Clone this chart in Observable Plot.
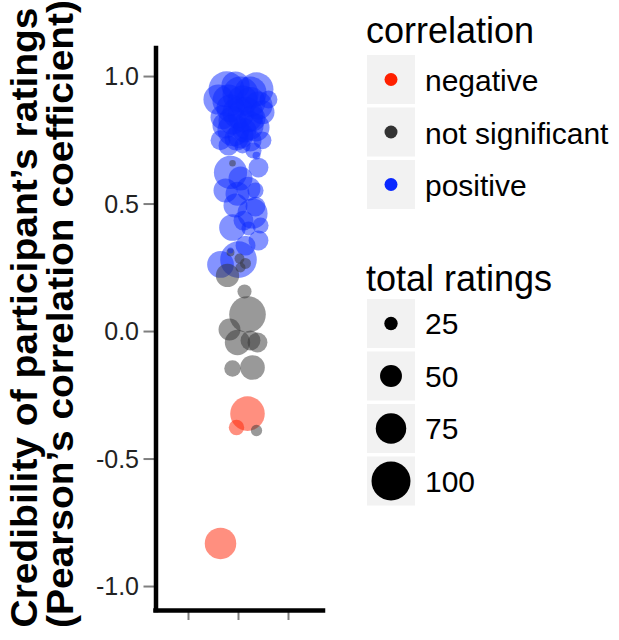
<!DOCTYPE html>
<html>
<head>
<meta charset="utf-8">
<script src="https://cdn.jsdelivr.net/npm/d3@7"></script>
<script src="https://cdn.jsdelivr.net/npm/@observablehq/plot@0.6"></script>
<style>
  html, body { margin: 0; padding: 0; background: white; }
  #wrap { position: relative; width: 619px; height: 640px; overflow: hidden; }
  #wrap > svg { position: absolute; left: 0; top: 0; }
</style>
</head>
<body>
<div id="wrap"></div>
<script>
// ---- data ----
const corrCategories = ["negative", "not significant", "positive"];
const corrColors = ["#FF2000", "#333333", "#0A28FF"];

// positive correlations
const posCorr  = [0.95, 0.95, 0.91, 0.93, 0.91, 0.86, 0.84, 0.85, 0.79, 0.80, 0.75, 0.73, 0.71, 0.69, 0.875, 0.90, 0.757, 0.75, 0.624, 0.56, 0.54, 0.553, 0.463, 0.49, 0.435, 0.408, 0.357, 0.282, 0.263, 0.318, 0.404, 0.643,
                  0.965, 0.937, 0.906, 0.886, 0.859, 0.808, 0.808, 0.769, 0.729, 0.749, 0.60, 0.553, 0.416, 0.337,
                  0.906, 0.827, 0.835, 0.788, 0.494];
const posJit   = [0.88, 1.18, 0.80, 1.02, 1.30, 1.24, 0.84, 1.07, 0.95, 1.17, 0.82, 1.04, 1.15, 1.18, 0.92, 1.12, 0.98, 1.24, 0.92, 1.10, 0.99, 1.17, 1.14, 1.17, 1.05, 0.94, 1.20, 1.00, 0.82, 0.92, 1.10, 1.20,
                  0.97, 1.12, 0.90, 1.20, 1.00, 0.87, 1.10, 1.02, 0.90, 1.12, 1.02, 0.87, 1.22, 1.07,
                  1.04, 0.94, 1.14, 1.06, 0.97];
const posTotal = [91, 85, 74, 91, 38, 56, 56, 91, 80, 68, 44, 33, 33, 9, 68, 74, 56, 38, 83, 56, 56, 33, 74, 44, 44, 64, 44, 93, 64, 3, 27, 44,
                  68, 80, 80, 68, 80, 62, 74, 62, 44, 50, 56, 56, 33, 44,
                  74, 68, 62, 56, 56];

// not significant
const nsCorr  = [0.66, 0.31, 0.286, 0.267, 0.251, 0.22, 0.157, 0.067, 0.008, -0.043, -0.035, -0.043, -0.145, -0.141, -0.388];
const nsJit   = [0.94, 0.92, 1.01, 1.07, 1.02, 0.89, 1.06, 1.09, 0.91, 0.99, 1.12, 1.19, 0.94, 1.14, 1.18];
const nsTotal = [5, 9, 15, 18, 15, 54, 27, 93, 50, 60, 44, 44, 34, 58, 19];

// negative
const negCorr  = [-0.322, -0.376, -0.831];
const negJit   = [1.09, 0.98, 0.82];
const negTotal = [87, 31, 78];

const yTicks = [-1, -0.5, 0, 0.5, 1];
const yTickLabels = ["-1.0", "-0.5", "0.0", "0.5", "1.0"];
const xTicks = [0.5, 1, 1.5];
const xDomain = [0.175, 1.85];
const yDomain = [-1.094, 1.11];
const sizeBreaks = [25, 50, 75, 100];

const points = [];
const addGroup = (cat, c, j, t) => c.forEach((v, i) => points.push({corr: cat, y: v, x: j[i], total: t[i]}));
addGroup("positive", posCorr, posJit, posTotal);
addGroup("not significant", nsCorr, nsJit, nsTotal);
addGroup("negative", negCorr, negJit, negTotal);

const FONT = "'Liberation Sans', Arial, Helvetica, sans-serif";

const plot = Plot.plot({
  width: 340,
  height: 640,
  marginLeft: 155.5,
  marginRight: 17,
  marginTop: 48,
  marginBottom: 30,
  style: {fontFamily: FONT, background: "transparent"},
  x: {domain: xDomain, axis: null},
  y: {domain: yDomain, axis: null},
  r: {type: "linear", domain: [0, 100], range: [2.43, 19.5]},
  color: {domain: corrCategories, range: corrColors},
  marks: [
    Plot.axisY({ticks: yTicks, tickFormat: () => "", tickSize: 12,
      stroke: "#7f7f7f", strokeWidth: 2, label: null}),
    Plot.axisX({ticks: xTicks, tickFormat: () => "", tickSize: 10,
      stroke: "#7f7f7f", strokeWidth: 2, label: null}),
    Plot.dot(points, {x: "x", y: "y", r: "total", fill: "corr", fillOpacity: 0.5, stroke: null}),
    Plot.ruleX([xDomain[0]], {stroke: "black", strokeWidth: 4.5, strokeLinecap: "square"}),
    Plot.ruleY([yDomain[0]], {stroke: "black", strokeWidth: 4.5, strokeLinecap: "square"})
  ]
});

const wrap = document.getElementById("wrap");
wrap.appendChild(plot);

// ---- overlay: tick labels, axis title, legends ----
const yScale = plot.scale("y");
const rScale = plot.scale("r");
const cScale = plot.scale("color");
const rOf = v => rScale.range[0] + (v - rScale.domain[0]) / (rScale.domain[1] - rScale.domain[0]) * (rScale.range[1] - rScale.range[0]);

const svg = d3.create("svg").attr("width", 619).attr("height", 640)
  .style("font-family", FONT);

// y tick labels positioned with Plot's y scale
yTicks.forEach((v, i) => {
  svg.append("text")
    .attr("x", 139)
    .attr("y", yScale.apply(v))
    .attr("dy", "0.36em")
    .attr("text-anchor", "end")
    .attr("font-size", 25)
    .attr("fill", "#222222")
    .text(yTickLabels[i]);
});

// y axis title (two lines)
const titleLines = ["Credibility of participant\u2019s ratings", "(Pearson\u2019s correlation coefficient)"];
const titleX = [37, 73];
const titleLen = [620, 628];
titleLines.forEach((t, i) => {
  svg.append("text")
    .attr("transform", `translate(${titleX[i]},${i === 0 ? 317.5 : 314}) rotate(-90)`)
    .attr("text-anchor", "middle")
    .attr("font-size", 37)
    .attr("font-weight", "bold")
    .attr("fill", "black")
    .attr("textLength", titleLen[i])
    .attr("lengthAdjust", "spacingAndGlyphs")
    .text(t);
});

// colour legend
svg.append("text").attr("x", 366).attr("y", 43).attr("font-size", 36).text("correlation");
const keyTop1 = 55, keyStep = 52.5;
cScale.domain.forEach((cat, i) => {
  const y0 = keyTop1 + i * keyStep;
  svg.append("rect").attr("x", 367).attr("y", y0).attr("width", 48).attr("height", 49).attr("fill", "#F2F2F2");
  svg.append("circle").attr("cx", 391).attr("cy", y0 + 24.5).attr("r", 6.5).attr("fill", cScale.apply(cat));
  svg.append("text").attr("x", 425).attr("y", y0 + 36).attr("font-size", 30).text(cat);
});

// size legend
svg.append("text").attr("x", 366).attr("y", 291).attr("font-size", 36).text("total ratings");
const keyTop2 = 299;
sizeBreaks.forEach((v, i) => {
  const y0 = keyTop2 + i * keyStep;
  svg.append("rect").attr("x", 367).attr("y", y0).attr("width", 48).attr("height", 49).attr("fill", "#F2F2F2");
  svg.append("circle").attr("cx", 391).attr("cy", y0 + 24.5).attr("r", rOf(v)).attr("fill", "black");
  svg.append("text").attr("x", 425).attr("y", y0 + 35).attr("font-size", 30).text(v);
});

wrap.appendChild(svg.node());
</script>
</body>
</html>
